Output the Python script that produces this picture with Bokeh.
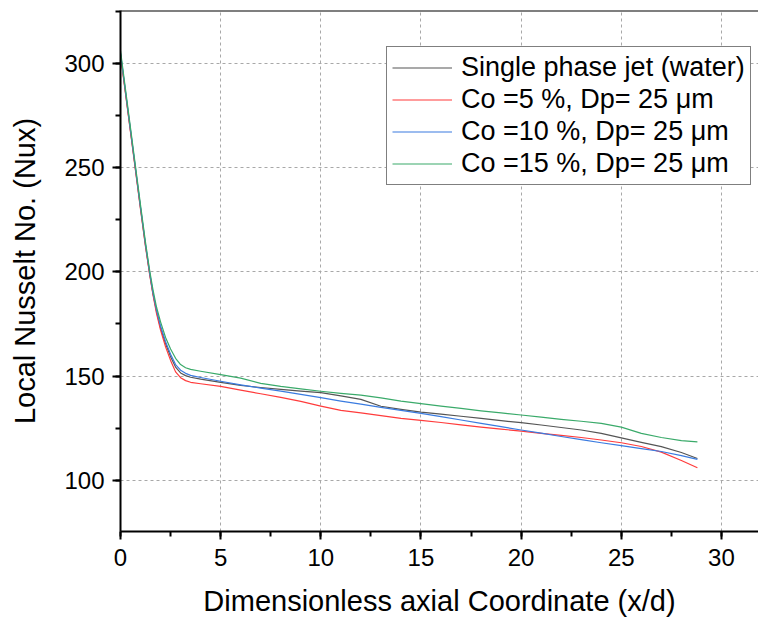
from bokeh.plotting import figure
from bokeh.models import Range1d, Legend, LegendItem, Span, SingleIntervalTicker
from bokeh.embed import file_html
from bokeh.resources import INLINE

# Data
x = [0, 0.5, 1, 1.25, 1.45, 1.62, 1.8, 2, 2.25, 2.5, 2.75, 3, 3.25, 3.5, 4, 5, 6, 7, 8, 9,
     10, 11, 12, 13, 14, 15, 16, 17, 18, 19, 20, 21, 22, 23, 24, 25, 26, 27, 28, 28.8]

single_phase = [304.5, 267.5, 230.5, 212.5, 199.5, 189.5, 181, 173, 165.5, 159.3, 154.3,
                151.5, 150.2, 149.4, 148.5, 147, 145.5, 144.5, 143.6, 142.8, 142, 140.5,
                138.8, 135.5, 134, 132.7, 131.7, 130.7, 129.7, 128.6, 127.6, 126.5, 125.3,
                124.1, 122.5, 120.3, 118.2, 116.1, 113.3, 110.4]

co5 = [304, 267, 230, 212, 199, 189, 180, 172, 164, 157.5, 152, 149.2, 147.8, 147, 146.3,
       145, 143.2, 141.5, 139.8, 137.8, 135.6, 133.5, 132.3, 131, 129.7, 128.7, 127.7,
       126.6, 125.5, 124.5, 123.6, 122.5, 121.5, 120.5, 119.3, 118, 116.2, 113.5, 109.5, 106]

co10 = [305, 268, 231, 213, 200, 190, 181.5, 174, 166.5, 160.5, 155.5, 152.8, 151.3, 150.3,
        149.3, 147.5, 145.8, 144.2, 142.8, 141.2, 139.6, 138, 136.5, 135, 133.5, 132.1,
        130.5, 128.9, 127.3, 125.7, 124.1, 122.6, 121, 119.5, 118, 116.6, 115.2, 113.8,
        111.8, 110]

co15 = [306, 269, 232, 214, 201, 191.5, 183, 176, 168.5, 163, 158.5, 155.5, 154, 153.2,
        152.3, 150.7, 149, 146.5, 145, 143.8, 142.7, 141.7, 140.8, 139.5, 138, 136.8, 135.6,
        134.5, 133.3, 132.3, 131.3, 130.3, 129.2, 128.3, 127.3, 125.5, 122.5, 120.5, 119,
        118.4]

labels = ["Single phase jet (water)", "Co =5 %, Dp= 25 μm",
          "Co =10 %, Dp= 25 μm", "Co =15 %, Dp= 25 μm"]
colors = ["#555555", "#ff3b3b", "#3a7be0", "#3aaa6a"]

FONT = "Liberation Sans"

p = figure(width=758, height=619, output_backend="svg", toolbar_location=None,
           x_range=Range1d(0, 31.85), y_range=Range1d(75.4, 325.4),
           min_border_left=120, min_border_right=0, min_border_top=10,
           min_border_bottom=87)
p.outline_line_color = None
p.background_fill_color = "white"
p.border_fill_color = "white"

renderers = []
for ys, c in zip([single_phase, co5, co10, co15], colors):
    r = p.line(x, ys, line_color=c, line_width=1.2, line_join="round")
    renderers.append(r)

# top border
p.add_layout(Span(location=325.4, dimension="width", line_color="black", line_width=2))

p.xaxis.ticker = SingleIntervalTicker(interval=5, num_minor_ticks=2)
p.yaxis.ticker = SingleIntervalTicker(interval=50, num_minor_ticks=2)

for ax in (p.xaxis[0], p.yaxis[0]):
    ax.axis_line_width = 2
    ax.axis_line_color = "black"
    ax.major_tick_line_width = 2
    ax.major_tick_line_color = "black"
    ax.minor_tick_line_width = 2
    ax.minor_tick_line_color = "black"
    ax.major_tick_out = 8
    ax.major_tick_in = 0
    ax.minor_tick_out = 5
    ax.minor_tick_in = 0
    ax.major_label_text_font = FONT
    ax.major_label_text_font_size = "24px"
    ax.major_label_text_color = "black"
    ax.axis_label_text_font = FONT
    ax.axis_label_text_font_size = "29px"
    ax.axis_label_text_font_style = "normal"
    ax.axis_label_text_color = "black"

p.xaxis.major_label_standoff = 9
p.yaxis.major_label_standoff = 8
p.xaxis.axis_label = "Dimensionless axial Coordinate (x/d)"
p.yaxis.axis_label = "Local Nusselt No. (Nux)"
p.xaxis.axis_label_standoff = 16
p.yaxis.axis_label_standoff = 20

for g in (p.xgrid[0], p.ygrid[0]):
    g.grid_line_color = "#a8a8a8"
    g.grid_line_dash = "3 3"
    g.grid_line_width = 1

legend = Legend(items=[LegendItem(label=l, renderers=[r]) for l, r in zip(labels, renderers)],
                location=(266, 346))
legend.label_text_font = FONT
legend.label_text_font_size = "27px"
legend.label_text_color = "black"
legend.glyph_width = 60
legend.glyph_height = 31
legend.label_height = 31
legend.spacing = 1
legend.padding = 5
legend.margin = 0
legend.label_standoff = 9
legend.border_line_color = "black"
legend.border_line_width = 1.5
legend.background_fill_alpha = 1
p.add_layout(legend, "center")

open("out.html", "w").write(file_html(p, INLINE))
